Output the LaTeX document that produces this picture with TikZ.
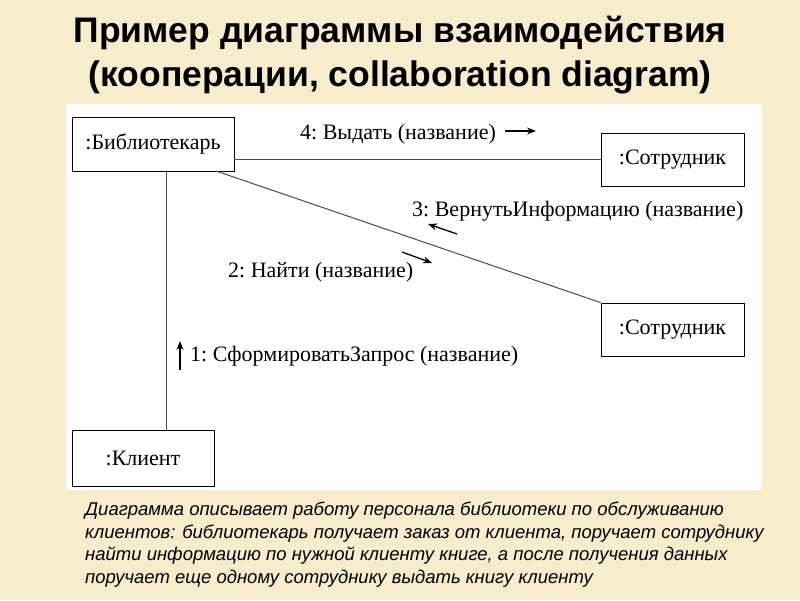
\documentclass[tikz,border=0pt]{standalone}
\usepackage{fontspec}
\setmainfont{Liberation Serif}
\newfontfamily\sans{Liberation Sans}
\usetikzlibrary{arrows.meta}
\definecolor{bg}{HTML}{F7ECCB}
\begin{document}
\begin{tikzpicture}[x=1pt,y=-1pt,
  obj/.style={draw,thick,fill=white,inner sep=0pt,font=\fontsize{22}{26}\selectfont},
  lbl/.style={font=\fontsize{22}{26}\selectfont,inner sep=0pt},
  link/.style={draw=black!70,line width=1pt},
  msg/.style={-{Stealth[length=9pt,width=7pt]},line width=1.3pt}]
\fill[bg] (0,0) rectangle (800,600);
\useasboundingbox (0,0) rectangle (800,600);
\fill[white] (66,104) rectangle (762,490);
\node[font=\sans\bfseries\fontsize{35.5}{44}\selectfont,align=center] (title) at (400,55) {Пример диаграммы взаимодействия\\(кооперации, collaboration diagram)};
\node[obj,minimum width=162pt,minimum height=54pt] (lib) at (153,144) {:Библиотекарь};
\node[obj,minimum width=143pt,minimum height=53pt] (s1) at (672.5,159.5) {:Сотрудник};
\node[obj,minimum width=143pt,minimum height=53pt] (s2) at (672.5,329.5) {:Сотрудник};
\node[obj,minimum width=142pt,minimum height=56pt] (cl) at (143,458) {:Клиент};
\coordinate (l1) at (234,159.5);
\draw[link] (l1) -- (s1.west);
\coordinate (l2) at (216,171);
\draw[link] (l2) -- (s2.north west);
\coordinate (l3) at (166,171);
\coordinate (c3) at (166,430);
\draw[link] (l3) -- (c3);
\node[lbl,anchor=west] (m4) at (300,134) {4:~Выдать (название)};
\draw[msg] (505,131) -- (536,131);
\node[lbl,anchor=west] (m3) at (412,211) {3:~ВернутьИнформацию (название)};
\draw[msg] (457,234) -- (428,224);
\node[lbl,anchor=west] (m2) at (228,272) {2:~Найти (название)};
\draw[msg] (402,252) -- (432,263);
\node[lbl,anchor=west] (m1) at (190,356) {1:~СформироватьЗапрос (название)};
\draw[msg] (180,370) -- (180,341);
\node[font=\sans\itshape\fontsize{18.5}{22.5}\selectfont,align=left,anchor=north west,inner sep=0pt] (desc) at (85,502) {Диаграмма описывает работу персонала библиотеки по обслуживанию\\клиентов: библиотекарь получает заказ от клиента, поручает сотруднику\\найти информацию по нужной клиенту книге, а после получения данных\\поручает еще одному сотруднику выдать книгу клиенту};
\end{tikzpicture}
\end{document}
